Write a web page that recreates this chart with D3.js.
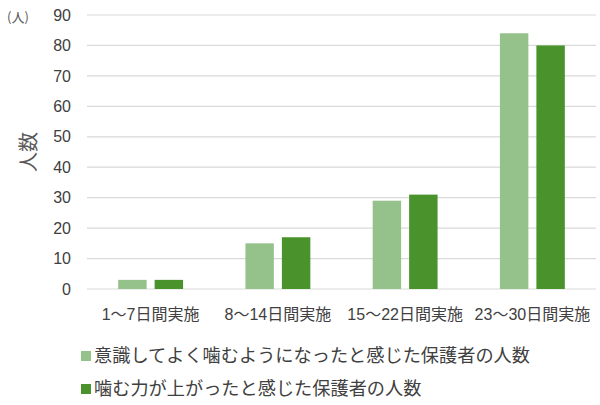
<!DOCTYPE html>
<html>
<head>
<meta charset="utf-8">
<script src="https://cdn.jsdelivr.net/npm/d3@7"></script>
<style>
  html, body { margin: 0; padding: 0; background: #fff; }
  svg { display: block; font-family: "Noto Sans CJK JP", "Noto Sans", sans-serif; }
</style>
</head>
<body>
<div id="chart"></div>
<script>
// データ-----------------------------------------------------------------------------------
const categories = ['1〜7日間実施', '8〜14日間実施', '15〜22日間実施', '23〜30日間実施'];
const seriesNames = ['意識してよく噛むようになったと感じた保護者の人数', '噛む力が上がったと感じた保護者の人数'];
const seriesAware = [3, 15, 29, 84];
const seriesPower = [3, 17, 31, 80];
const yTicks = [0, 10, 20, 30, 40, 50, 60, 70, 80, 90];
const colors = ['#95c28b', '#4a922b'];

// SVG領域-----------------------------------------------------------------------------------
const width = 600;
const height = 405;
const plot = {left: 87, right: 596, top: 15, bottom: 289};

const svg = d3.select('#chart').append('svg')
  .attr('width', width)
  .attr('height', height);

// スケール
const x0 = d3.scaleBand()
  .domain(categories)
  .range([plot.left, plot.right])
  .padding(0);
const x1 = d3.scaleBand()
  .domain([0, 1])
  .range([x0.bandwidth() * 0.245, x0.bandwidth() * 0.755])
  .paddingInner(0.22);
const y = d3.scaleLinear()
  .domain([0, 90])
  .range([plot.bottom, plot.top]);

// グリッド線
svg.append('g')
  .selectAll('line')
  .data(yTicks)
  .enter()
  .append('line')
  .attr('x1', plot.left)
  .attr('x2', plot.right)
  .attr('y1', d => y(d))
  .attr('y2', d => y(d))
  .attr('stroke', '#d9d9d9')
  .attr('stroke-width', 1.2);

// Y軸ラベル
const yAxis = svg.append('g')
  .attr('transform', 'translate(' + (plot.left - 16) + ',0)')
  .call(d3.axisLeft(y).tickValues(yTicks).tickSize(0).tickPadding(0));
yAxis.select('.domain').remove();
yAxis.selectAll('text')
  .attr('font-size', 16)
  .attr('fill', '#404040')
  .attr('font-family', '"Liberation Sans", Arial, sans-serif');

// バー
const rows = categories.map((c, i) => ({cat: c, vals: [seriesAware[i], seriesPower[i]]}));
const groups = svg.append('g')
  .selectAll('g')
  .data(rows)
  .enter()
  .append('g')
  .attr('transform', d => 'translate(' + x0(d.cat) + ',0)');
groups.selectAll('rect')
  .data(d => d.vals.map((v, k) => ({k: k, v: v})))
  .enter()
  .append('rect')
  .attr('x', d => x1(d.k))
  .attr('width', x1.bandwidth())
  .attr('y', d => y(d.v))
  .attr('height', d => y(0) - y(d.v))
  .attr('fill', d => colors[d.k]);

// X軸ラベル
const xAxis = svg.append('g')
  .attr('transform', 'translate(0,' + (plot.bottom + 20) + ')')
  .call(d3.axisBottom(x0).tickSize(0).tickPadding(0));
xAxis.select('.domain').remove();
xAxis.selectAll('text')
  .attr('font-size', 16)
  .attr('fill', '#404040')
  .attr('font-family', '"Liberation Sans", "Noto Sans CJK JP", sans-serif');

// 単位・軸タイトル
svg.append('text')
  .attr('x', 7)
  .attr('y', 22)
  .attr('font-size', 13)
  .attr('fill', '#595959')
  .text('(人)');
svg.append('text')
  .attr('transform', 'translate(36,152) rotate(-90)')
  .attr('text-anchor', 'middle')
  .attr('font-size', 20)
  .attr('fill', '#595959')
  .text('人数');

// 凡例
const legend = svg.append('g')
  .selectAll('g')
  .data(seriesNames)
  .enter()
  .append('g')
  .attr('transform', (d, i) => 'translate(81,' + (356 + i * 33) + ')');
legend.append('rect')
  .attr('x', 0)
  .attr('y', -5)
  .attr('width', 10)
  .attr('height', 10)
  .attr('fill', (d, i) => colors[i]);
legend.append('text')
  .attr('x', 13)
  .attr('dy', '0.35em')
  .attr('font-size', 18.2)
  .attr('fill', '#404040')
  .text(d => d);
</script>
</body>
</html>
